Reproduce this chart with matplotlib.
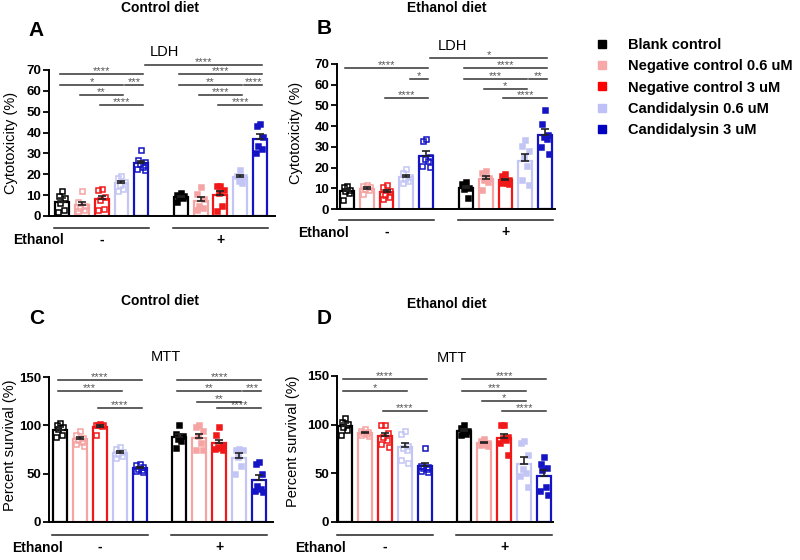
import numpy as np
import matplotlib
matplotlib.use('Agg')
import matplotlib.pyplot as plt
import matplotlib.transforms as mtrans
from matplotlib.lines import Line2D

plt.rcParams['font.family'] = ['Liberation Sans', 'DejaVu Sans']

W, H = 800, 560

groups = ['Blank control', 'Negative control 0.6 uM', 'Negative control 3 uM',
          'Candidalysin 0.6 uM', 'Candidalysin 3 uM']
colors = ['#000000', '#f5a3a3', '#f01818', '#c3c6f4', '#1414c4']
legend_colors = ['#000000', '#f7a8a8', '#ff0000', '#c0c0f8', '#0000c0']
ethanol_signs = ['-', '+']

# individual replicates, ethanol - (5 groups) then ethanol + (5 groups)
ldh_control = [
    [12, 9.5, 8.5, 6, 3, 2], [12, 6.5, 5, 4, 3, 2.5], [13, 12.5, 9, 7.5, 3.2, 2.8],
    [19, 18, 16.5, 15, 13, 12], [31.5, 27, 26, 25, 23.5, 22.5, 22],
    [11, 10, 9.5, 9, 8.5, 6.8], [14, 10.5, 8, 5, 4, 3], [14.5, 14.5, 12.5, 11, 5, 2.5],
    [22, 19, 18.5, 17, 16], [44, 43, 38, 33.5, 32, 30],
]
ldh_ethanol = [
    [11, 10.5, 9, 8.5, 7.5, 4.5], [11.5, 11, 10.5, 9.5, 9, 7.3], [11.5, 10.5, 8.5, 7, 6, 5],
    [19.5, 17.5, 15.5, 14.5, 13.5, 12.5], [34, 33, 25, 24, 23, 21, 20.5],
    [13, 12, 10, 9.5, 5.5], [18.5, 17.5, 15, 14, 13, 9], [17, 16, 14, 13.5, 12.5, 12.5, 12],
    [33.5, 30.5, 28, 25, 21, 14, 11.5], [48, 41, 35.5, 35, 34, 30, 26.5],
]
mtt_control = [
    [102, 100, 98, 96, 90, 88], [94, 90, 87, 85, 83, 81, 79], [101, 100.5, 100, 100, 99, 89.5],
    [78, 75.5, 72, 70, 68, 66], [60, 58.5, 56.5, 55, 54, 52.5, 51.5],
    [100, 91, 89, 86, 84, 77], [100.5, 98, 94, 89, 82, 74, 74], [98, 90, 80, 78, 77, 75.5, 75],
    [76, 75, 74, 67, 58, 50], [62, 60.5, 49.5, 37, 34, 32, 31],
]
mtt_ethanol = [
    [107, 103, 101, 98, 95, 89], [96, 94, 92, 91, 90, 89, 88], [100, 100, 91, 87, 84, 80, 77.5],
    [94, 90, 78, 76, 73.5, 64, 61], [76, 58, 56, 55, 54, 52.5, 51],
    [100, 97, 94, 92, 90, 89], [85, 83, 81.5, 81, 80, 79, 78], [100, 100, 87, 86, 84, 81, 69],
    [83.5, 81.5, 69, 54, 50, 47, 35.5], [67, 60, 55, 53, 36, 32, 28],
]

# significance brackets: (from bar, to bar, height, stars)
sig_a = [(4, 10, 72.4, '****'), (0, 4, 68, '****'), (6, 10, 68, '****'),
         (0, 3, 62.8, '*'), (3, 4, 62.8, '***'), (6, 9, 62.8, '**'), (9, 10, 62.8, '****'),
         (1, 3, 58, '**'), (7, 9, 58, '****'), (2, 4, 53.2, '****'), (8, 10, 53.2, '****')]
sig_b = [(4, 10, 72.8, '*'), (0, 4, 68.2, '****'), (6, 10, 68.2, '****'),
         (3, 4, 62.8, '*'), (6, 9, 62.8, '***'), (9, 10, 62.8, '**'),
         (7, 9, 57.9, '*'), (2, 4, 53.4, '****'), (8, 10, 53.4, '****')]
sig_c = [(0, 4, 147, '****'), (6, 10, 147, '****'), (0, 3, 135.5, '***'),
         (6, 9, 135.5, '**'), (9, 10, 135.5, '***'), (7, 9, 124.5, '**'),
         (2, 4, 118, '****'), (8, 10, 118, '****')]
sig_d = [(0, 4, 146.6, '****'), (6, 10, 146.6, '****'), (0, 3, 134.6, '*'),
         (6, 9, 134.6, '***'), (7, 9, 124.6, '*'), (2, 4, 114.4, '****'), (8, 10, 114.4, '****')]

pos = [0, 1, 2, 3, 4, 6, 7, 8, 9, 10]
jit = np.array([0.0, -0.17, 0.17, -0.08, 0.1, -0.19, 0.19])

fig = plt.figure(figsize=(8, 5.6), dpi=100)


def ftext(x, y, s, **kw):
    fig.text(x / W, 1 - y / H, s, **kw)


def panel(box, xlim, data, sigs, ymax, yticks, ylabel, lab_xy, eth_y):
    l, t, r, b = box
    ax = fig.add_axes([l / W, 1 - b / H, (r - l) / W, (b - t) / H])
    for k, vals in enumerate(data):
        v = np.asarray(vals, dtype=float)
        c = colors[k % 5]
        x = pos[k]
        m = v.mean()
        se = v.std(ddof=1) / np.sqrt(len(v))
        ax.bar(x, m, width=0.7, facecolor='white', edgecolor=c, linewidth=1.6, zorder=2)
        ax.plot(x + jit[:len(v)], v, 's', ms=3.6, mew=1.1, mec=c,
                mfc=c if k >= 5 else 'none', zorder=3, clip_on=False)
        ax.errorbar(x, m, yerr=[[0], [se]], fmt='none', ecolor='#222222',
                    elinewidth=1.2, capsize=2.8, capthick=1.2, zorder=4)
    ax.set_xlim(*xlim)
    ax.set_ylim(0, ymax)
    ax.set_xticks([])
    ax.set_yticks(yticks, [str(y) for y in yticks], fontsize=9.5, fontweight='bold')
    ax.tick_params(axis='y', direction='out', length=4, width=1.3, pad=1.5)
    for s in ['top', 'right']:
        ax.spines[s].set_visible(False)
    for s in ['left', 'bottom']:
        ax.spines[s].set_linewidth(1.4)
    ax.set_ylabel(ylabel, fontsize=10.5)
    ax.yaxis.set_label_coords(*lab_xy)

    star_tr = mtrans.offset_copy(ax.transData, fig=fig, y=3.0, units='dots')
    for i, j, yv, lbl in sigs:
        x0 = i - 0.1 + (0.3 if (j - i == 1 or i < 5 < j) else 0)
        x1 = j + 0.1
        ax.plot([x0, x1], [yv, yv], color='#333333', lw=1.1, clip_on=False, zorder=5)
        ax.text((x0 + x1) / 2, yv, lbl, transform=star_tr, ha='center', va='center',
                fontsize=8, color='#555555')

    # ethanol grouping lines under the axis
    ya = -(eth_y - b) / (b - t)
    tr = ax.get_xaxis_transform()
    for g in range(2):
        lo, hi = pos[5 * g] - 0.4, pos[5 * g + 4] + 0.4
        ax.plot([lo, hi], [ya, ya], color='#222222', lw=1.1, transform=tr, clip_on=False)
        ax.text((lo + hi) / 2, ya - 12.0 / (b - t), ethanol_signs[g], transform=tr,
                ha='center', va='center', fontsize=10, fontweight='bold')
    return ax


panel((49, 70, 275, 216), (-0.66, 10.76), ldh_control, sig_a, 70, range(0, 71, 10),
      'Cytotoxicity (%)', (-0.137, 0.5), 228)
panel((337, 64, 555, 209), (-0.5, 10.5), ldh_ethanol, sig_b, 70, range(0, 71, 10),
      'Cytotoxicity (%)', (-0.156, 0.524), 220)
panel((49, 377, 273, 522), (-0.55, 10.7), mtt_control, sig_c, 150, [0, 50, 100, 150],
      'Percent survival (%)', (-0.143, 0.53), 535)
panel((337, 376, 553, 522), (-0.4, 10.45), mtt_ethanol, sig_d, 150, [0, 50, 100, 150],
      'Percent survival (%)', (-0.171, 0.555), 535)

# titles, letters, assay names, "Ethanol" row labels
for x, y, s in [(160, 8, 'Control diet'), (447, 8, 'Ethanol diet'),
                (160, 301, 'Control diet'), (447, 304, 'Ethanol diet')]:
    ftext(x, y, s, ha='center', va='center', fontsize=10, fontweight='bold')
for x, y, s in [(36, 31, 'A'), (324, 28, 'B'), (37, 319, 'C'), (324, 319, 'D')]:
    ftext(x, y, s, ha='center', va='center', fontsize=15, fontweight='bold')
for x, y, s in [(164, 52, 'LDH'), (452, 46, 'LDH'), (166, 357, 'MTT'), (452, 358, 'MTT')]:
    ftext(x, y, s, ha='center', va='center', fontsize=10.5)
for x, y in [(13, 240), (298, 233), (12, 548), (295, 548)]:
    ftext(x, y, 'Ethanol', ha='left', va='center', fontsize=10, fontweight='bold')

handles = [Line2D([], [], marker='s', ls='none', ms=6, color=c) for c in legend_colors]
fig.legend(handles, groups, loc='upper left', bbox_to_anchor=(595 / W, 1 - 38 / H),
           frameon=False, prop={'size': 10.5, 'weight': 'bold'}, handletextpad=1.28,
           labelspacing=0.5, handlelength=1.0, borderaxespad=0, borderpad=0)

fig.savefig('out.png', dpi=100, facecolor='white')
